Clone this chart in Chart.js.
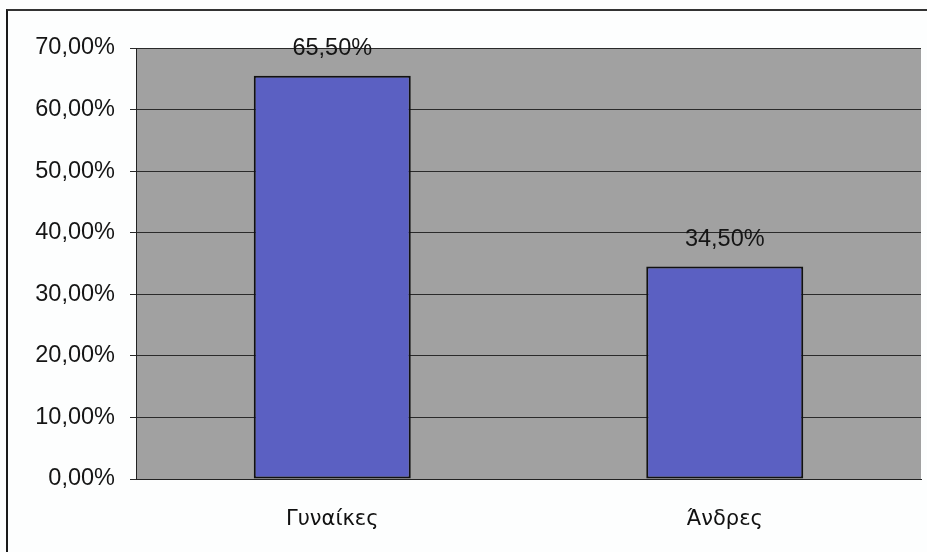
<!DOCTYPE html>
<html>
<head>
<meta charset="utf-8">
<script src="https://cdn.jsdelivr.net/npm/chart.js@4"></script>
<style>
  html, body { margin: 0; padding: 0; background: #fdfefe; overflow: hidden; }
  #wrap { position: relative; width: 927px; height: 552px; overflow: hidden; }
  #frame { position: absolute; left: 6px; top: 9px; width: 960px; height: 580px;
           border-left: 2px solid #1a1a1a; border-top: 2px solid #333; }
  #c { position: absolute; left: 0; top: 0; }
</style>
</head>
<body>
<div id="wrap">
  <div id="frame"></div>
  <canvas id="c" width="927" height="552"></canvas>
</div>
<script>
// δεδομένα
const categories = ['Γυναίκες', 'Άνδρες'];
const values = [65.5, 34.5];
const yMin = 0;
const yMax = 70;
const yStep = 10;

const fmtPct = v => v.toFixed(2).replace('.', ',') + '%';

// γκρι φόντο περιοχής σχεδίασης
const plotBg = {
    id: 'plotBg',
    beforeDraw(chart) {
        const { ctx, chartArea: a } = chart;
        ctx.save();
        ctx.fillStyle = '#a1a1a1';
        ctx.fillRect(a.left, a.top, a.right - a.left, a.bottom - a.top);
        ctx.restore();
    }
};

// ετικέτες τιμών πάνω από τις μπάρες
const valueLabels = {
    id: 'valueLabels',
    afterDatasetsDraw(chart) {
        const { ctx } = chart;
        const meta = chart.getDatasetMeta(0);
        ctx.save();
        ctx.font = '23.5px "Liberation Sans", Arial, sans-serif';
        ctx.fillStyle = '#151515';
        ctx.textAlign = 'center';
        ctx.textBaseline = 'middle';
        meta.data.forEach((bar, i) => {
            ctx.fillText(fmtPct(values[i]), bar.x, bar.y - 27);
        });
        ctx.restore();
    }
};

new Chart(document.getElementById('c'), {
    type: 'bar',
    data: {
        labels: categories,
        datasets: [{
            data: values,
            backgroundColor: '#5b60c2',
            borderColor: '#111',
            borderWidth: 2,
            borderSkipped: false,
            categoryPercentage: 1,
            barPercentage: 0.4
        }]
    },
    options: {
        responsive: false,
        animation: false,
        layout: { padding: { top: 48, right: 6, left: 0, bottom: 0 } },
        plugins: {
            legend: { display: false },
            tooltip: { enabled: false }
        },
        scales: {
            y: {
                min: yMin,
                max: yMax,
                afterFit(scale) { scale.width = 136; },
                ticks: {
                    stepSize: yStep,
                    padding: 15,
                    color: '#151515',
                    font: { family: '"Liberation Sans", Arial, sans-serif', size: 23.5 },
                    callback: v => fmtPct(v)
                },
                grid: { color: '#2a2a2a', lineWidth: 1, tickLength: 6 },
                border: { color: '#222', width: 1 }
            },
            x: {
                afterFit(scale) { scale.height = 73; },
                ticks: {
                    padding: 20,
                    color: '#111',
                    font: { family: '"DejaVu Sans", sans-serif', size: 21 }
                },
                grid: { display: false },
                border: { color: '#222', width: 1 }
            }
        }
    },
    plugins: [plotBg, valueLabels]
});
</script>
</body>
</html>
